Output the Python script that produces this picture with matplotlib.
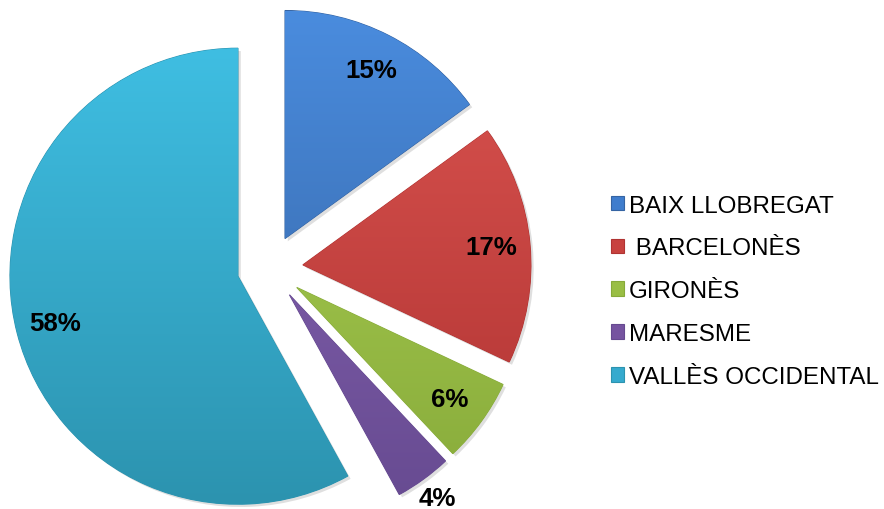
import numpy as np
import matplotlib
matplotlib.use("Agg")
import matplotlib.pyplot as plt
from matplotlib.colors import LinearSegmentedColormap
from matplotlib.patches import Patch
import matplotlib.patheffects as pe

categories = ["BAIX LLOBREGAT", " BARCELONÈS", "GIRONÈS", "MARESME", "VALLÈS OCCIDENTAL"]
values = [15, 17, 6, 4, 58]
base_colors = ["#3F7DCD", "#C8423F", "#99BE44", "#7654A0", "#35AACE"]
top_colors = ["#4A8CDE", "#D9534F", "#ABD053", "#8764B3", "#3FBEE2"]
bottom_colors = ["#3564A3", "#B03332", "#87AA3A", "#664A90", "#2C93AF"]

plt.rcParams["font.family"] = ["Liberation Sans", "DejaVu Sans"]

W, H = 884, 510
R_px = 228.0
cx_px, cy_px = 270.0, 269.0

fig = plt.figure(figsize=(W / 100, H / 100), dpi=100)
ax = fig.add_axes([0, 0, 1, 1])

explode = [0.145] * len(values)
wedges, texts, autotexts = ax.pie(
    values,
    explode=explode,
    colors=base_colors,
    startangle=90,
    counterclock=False,
    radius=1.0,
    autopct=lambda p: f"{p:.0f}%",
    pctdistance=0.83,
    textprops=dict(fontsize=18.6, fontweight="bold", color="black"),
    wedgeprops=dict(linewidth=0.8),
)

# gradient fill clipped to each wedge
grad = np.linspace(1, 0, 256).reshape(-1, 1)
for w, ctop, cbot in zip(wedges, top_colors, bottom_colors):
    w.set_edgecolor(cbot)
    w.set_path_effects([pe.SimplePatchShadow(offset=(2, -2), alpha=0.25, shadow_rgbFace="gray"), pe.Normal()])
    cmap = LinearSegmentedColormap.from_list("g", [cbot, ctop])
    cx, cy = w.center
    im = ax.imshow(grad, cmap=cmap, extent=[cx - 1, cx + 1, cy - 1, cy + 1],
                   aspect="auto", zorder=w.get_zorder() + 0.1, interpolation="bilinear")
    im.set_clip_path(w)

for t in autotexts:
    t.set_zorder(5)

# small slice label sits outside the slice
w = wedges[3]
thm = np.deg2rad((w.theta1 + w.theta2) / 2)
cx, cy = w.center
autotexts[3].set_position((cx + 1.10 * np.cos(thm), cy + 1.10 * np.sin(thm)))

ax.set_xlim(-cx_px / R_px, (W - cx_px) / R_px)
ax.set_ylim(-(H - cy_px) / R_px, cy_px / R_px)
ax.set_aspect("equal")
ax.axis("off")

handles = [Patch(facecolor=c, edgecolor=e, linewidth=0.8) for c, e in zip(base_colors, bottom_colors)]
leg = fig.legend(
    handles, categories,
    loc="center left",
    bbox_to_anchor=(610.7 / W, 1 - 292.2 / H),
    frameon=False,
    fontsize=17.4,
    handlelength=0.56,
    handleheight=0.56,
    handletextpad=0.2,
    labelspacing=0.86,
    borderpad=0,
    borderaxespad=0,
)

fig.savefig("out.png", dpi=100)
